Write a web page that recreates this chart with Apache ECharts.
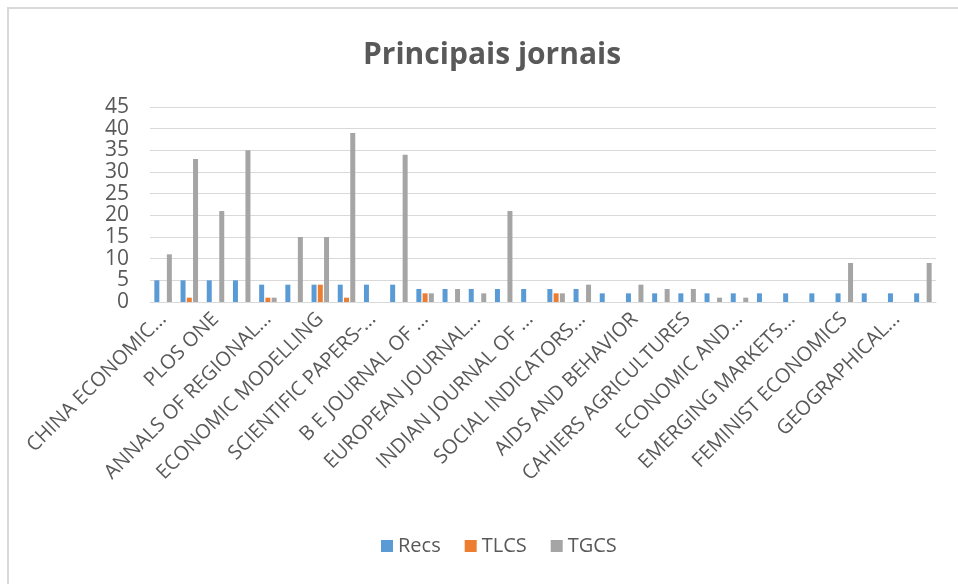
<!DOCTYPE html>
<html>
<head>
<meta charset="utf-8">
<script src="https://cdn.jsdelivr.net/npm/echarts@6/dist/echarts.min.js"></script>
<style>
  html, body { margin: 0; padding: 0; background: #fff; }
  #chart { width: 958px; height: 584px; }
</style>
</head>
<body>
<div id="chart"></div>
<script>
// journals (only every other name is printed on the axis)
const journals = [
  'CHINA ECONOMIC REVIEW', 'J2',
  'PLOS ONE', 'J4',
  'ANNALS OF REGIONAL SCIENCE', 'J6',
  'ECONOMIC MODELLING', 'J8',
  'SCIENTIFIC PAPERS-SERIES', 'J10',
  'B E JOURNAL OF ECONOMIC', 'J12',
  'EUROPEAN JOURNAL OF', 'J14',
  'INDIAN JOURNAL OF', 'J16',
  'SOCIAL INDICATORS RESEARCH', 'J18',
  'AIDS AND BEHAVIOR', 'J20',
  'CAHIERS AGRICULTURES', 'J22',
  'ECONOMIC AND POLITICAL', 'J24',
  'EMERGING MARKETS FINANCE', 'J26',
  'FEMINIST ECONOMICS', 'J28',
  'GEOGRAPHICAL REVIEW', 'J30'
];
const recs = [5, 5, 5, 5, 4, 4, 4, 4, 4, 4, 3, 3, 3, 3, 3, 3, 3, 2, 2, 2, 2, 2, 2, 2, 2, 2, 2, 2, 2, 2];
const tlcs = [0, 1, 0, 0, 1, 0, 4, 1, 0, 0, 2, 0, 0, 0, 0, 2, 0, 0, 0, 0, 0, 0, 0, 0, 0, 0, 0, 0, 0, 0];
const tgcs = [11, 33, 21, 35, 1, 15, 15, 39, 0, 34, 2, 3, 2, 21, 0, 2, 4, 0, 4, 3, 3, 1, 1, 0, 0, 0, 9, 0, 0, 9];
const yTicks = { min: 0, max: 45, step: 5 };

const shortName = function (s) {
  const map = {
    'CHINA ECONOMIC REVIEW': 'CHINA ECONOMIC...',
    'ANNALS OF REGIONAL SCIENCE': 'ANNALS OF REGIONAL...',
    'SCIENTIFIC PAPERS-SERIES': 'SCIENTIFIC PAPERS-...',
    'B E JOURNAL OF ECONOMIC': 'B E JOURNAL OF ...',
    'EUROPEAN JOURNAL OF': 'EUROPEAN JOURNAL...',
    'INDIAN JOURNAL OF': 'INDIAN JOURNAL OF ...',
    'SOCIAL INDICATORS RESEARCH': 'SOCIAL INDICATORS...',
    'ECONOMIC AND POLITICAL': 'ECONOMIC AND...',
    'EMERGING MARKETS FINANCE': 'EMERGING MARKETS...',
    'GEOGRAPHICAL REVIEW': 'GEOGRAPHICAL...'
  };
  return map[s] || s;
};

const font = '"Open Sans", "Segoe UI", sans-serif';
const txt = '#595959';

const chart = echarts.init(document.getElementById('chart'));
const mkBar = function (name, data, color) {
  return {
    name: name, type: 'bar', data: data,
    barWidth: 5, barGap: '25%',
    itemStyle: { color: color },
    animation: false
  };
};
chart.setOption({
  backgroundColor: '#fff',
  title: {
    text: 'Principais jornais', left: 358, top: 35,
    textStyle: { fontFamily: font, fontSize: 30, fontWeight: 'bold', color: txt }
  },
  legend: {
    bottom: 23, left: 376, itemWidth: 12, itemHeight: 12, itemGap: 24,
    icon: 'rect',
    textStyle: { fontFamily: font, fontSize: 20, color: txt }
  },
  grid: { left: 150, right: 22, top: 107, bottom: 282 },
  xAxis: {
    type: 'category', data: journals,
    axisLine: { lineStyle: { color: '#d9d9d9', width: 1 } },
    axisTick: { show: false },
    axisLabel: {
      interval: 1, rotate: 45, fontFamily: font, fontSize: 20, color: txt,
      margin: 14, formatter: shortName
    }
  },
  yAxis: {
    type: 'value', min: yTicks.min, max: yTicks.max, interval: yTicks.step,
    axisLine: { show: false }, axisTick: { show: false },
    splitLine: { showMinLine: true, showMaxLine: true, lineStyle: { color: '#d9d9d9', width: 1 } },
    axisLabel: {
      fontFamily: font, fontSize: 21, color: txt, margin: 21,
      showMinLabel: true, showMaxLabel: true, hideOverlap: false
    }
  },
  graphic: [{
    type: 'rect', shape: { x: 8, y: 8, width: 1000, height: 700 },
    style: { fill: 'none', stroke: '#d9d9d9', lineWidth: 2 }, silent: true
  }],
  series: [
    mkBar('Recs', recs, '#5b9bd5'),
    mkBar('TLCS', tlcs, '#ed7d31'),
    mkBar('TGCS', tgcs, '#a5a5a5')
  ]
});
</script>
</body>
</html>
